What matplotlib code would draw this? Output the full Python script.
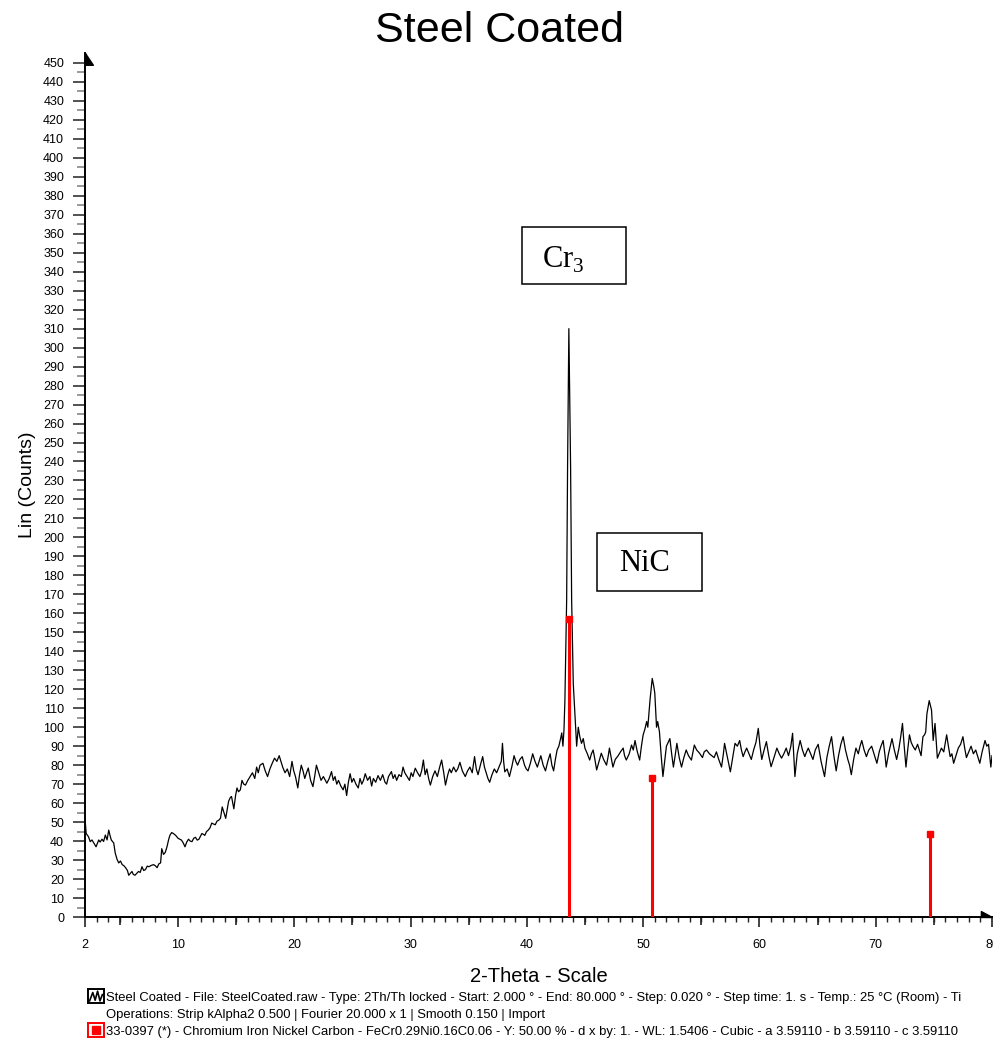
import matplotlib
matplotlib.use("Agg")
import matplotlib.pyplot as plt
from matplotlib.patches import Rectangle

plt.rcParams['font.family'] = ['Liberation Sans', 'DejaVu Sans']
plt.rcParams['mathtext.fontset'] = 'custom'
plt.rcParams['mathtext.rm'] = 'Liberation Serif'

# scan (2-theta in degrees, counts)
two_theta = [
    2.0, 2.1, 2.3, 2.45, 2.6, 2.8, 2.95, 3.18, 3.3, 3.46, 3.6, 3.75, 3.9, 4.04, 4.15, 4.26, 4.47,
    4.6, 4.75, 4.9, 5.05, 5.2, 5.35, 5.5, 5.65, 5.76, 5.9, 6.04, 6.15, 6.3, 6.45, 6.6, 6.75, 6.9,
    7.05, 7.2, 7.35, 7.5, 7.7, 7.9, 8.05, 8.2, 8.35, 8.5, 8.6, 8.75, 8.9, 9.05, 9.2, 9.3, 9.45,
    9.6, 9.8, 10.0, 10.3, 10.45, 10.6, 10.75, 10.9, 11.05, 11.2, 11.35, 11.5, 11.65, 11.8, 12.05,
    12.2, 12.3, 12.45, 12.6, 12.75, 12.9, 13.05, 13.2, 13.35, 13.5, 13.65, 13.8, 13.95, 14.1,
    14.35, 14.5, 14.6, 14.8, 14.95, 15.07, 15.2, 15.36, 15.5, 15.65, 15.8, 16.0, 16.2, 16.4, 16.6,
    16.76, 16.9, 17.05, 17.3, 17.5, 17.7, 17.9, 18.1, 18.3, 18.5, 18.7, 18.85, 19.0, 19.2, 19.4,
    19.6, 19.8, 19.95, 20.1, 20.3, 20.45, 20.6, 20.75, 20.9, 21.05, 21.2, 21.4, 21.6, 21.75, 21.9,
    22.1, 22.3, 22.5, 22.8, 23.0, 23.2, 23.35, 23.5, 23.65, 23.8, 24.0, 24.2, 24.35, 24.5, 24.65,
    24.8, 24.95, 25.1, 25.3, 25.5, 25.65, 25.8, 25.95, 26.1, 26.3, 26.5, 26.65, 26.8, 27.0, 27.2,
    27.4, 27.6, 27.8, 27.94, 28.1, 28.35, 28.5, 28.65, 28.8, 29.0, 29.2, 29.35, 29.5, 29.7, 29.9,
    30.05, 30.2, 30.4, 30.6, 30.8, 30.95, 31.1, 31.25, 31.4, 31.55, 31.7, 31.9, 32.1, 32.3, 32.5,
    32.67, 32.85, 33.0, 33.2, 33.35, 33.5, 33.7, 33.9, 34.05, 34.24, 34.45, 34.7, 34.9, 35.1, 35.3,
    35.5, 35.65, 35.8, 36.0, 36.2, 36.35, 36.5, 36.65, 36.8, 37.0, 37.2, 37.4, 37.6, 37.8, 37.9,
    38.0, 38.1, 38.3, 38.5, 38.7, 38.9, 39.05, 39.2, 39.4, 39.6, 39.8, 39.95, 40.1, 40.3, 40.5,
    40.7, 40.9, 41.05, 41.2, 41.4, 41.6, 41.8, 42.0, 42.15, 42.3, 42.45, 42.6, 42.75, 42.9, 43.0,
    43.1, 43.19, 43.27, 43.42, 43.5, 43.61, 43.76, 43.85, 43.99, 44.13, 44.28, 44.42, 44.55, 44.7,
    44.85, 44.99, 45.2, 45.4, 45.55, 45.7, 45.85, 46.0, 46.2, 46.4, 46.6, 46.85, 47.0, 47.1, 47.25,
    47.4, 47.6, 47.85, 48.05, 48.28, 48.4, 48.55, 48.8, 49.0, 49.15, 49.3, 49.5, 49.7, 49.85, 50.0,
    50.15, 50.3, 50.4, 50.6, 50.78, 50.9, 51.0, 51.15, 51.25, 51.4, 51.55, 51.7, 51.85, 52.0, 52.15,
    52.3, 52.45, 52.6, 52.75, 52.9, 53.1, 53.3, 53.5, 53.7, 53.9, 54.15, 54.4, 54.6, 54.85, 55.1,
    55.25, 55.45, 55.7, 55.9, 56.1, 56.3, 56.5, 56.74, 56.9, 57.0, 57.25, 57.5, 57.7, 57.9, 58.1,
    58.3, 58.45, 58.6, 58.75, 58.9, 59.1, 59.3, 59.5, 59.7, 59.9, 60.05, 60.2, 60.4, 60.6, 60.8,
    61.0, 61.25, 61.5, 61.7, 61.9, 62.1, 62.3, 62.5, 62.7, 62.85, 63.05, 63.25, 63.5, 63.7, 63.9,
    64.05, 64.2, 64.4, 64.6, 64.8, 65.05, 65.3, 65.6, 65.8, 66.0, 66.2, 66.4, 66.6, 66.8, 67.0,
    67.2, 67.4, 67.6, 67.75, 67.9, 68.1, 68.3, 68.5, 68.65, 68.8, 69.0, 69.2, 69.4, 69.65, 69.85,
    70.1, 70.3, 70.45, 70.64, 70.8, 70.9, 71.1, 71.25, 71.4, 71.6, 71.8, 72.0, 72.15, 72.3, 72.45,
    72.6, 72.75, 72.9, 73.05, 73.2, 73.4, 73.6, 73.75, 73.9, 74.06, 74.2, 74.3, 74.4, 74.6, 74.8,
    74.94, 75.1, 75.3, 75.45, 75.65, 75.85, 76.1, 76.25, 76.4, 76.55, 76.7, 76.9, 77.1, 77.3, 77.5,
    77.65, 77.8, 78.0, 78.2, 78.4, 78.6, 78.8, 78.95, 79.15, 79.4, 79.55, 79.7, 79.9, 80.0,
]
counts = [
    52, 44, 42.3, 39.7, 40.6, 38.5, 37, 40.6, 39.5, 41, 39.8, 43.2, 40.6, 45.8, 43, 40.6, 39,
    33.7, 30.5, 28.5, 29.5, 27.6, 27, 25.9, 24.5, 22, 23, 24, 22.5, 22, 23, 24, 23.5, 26.5,
    24.5, 25, 26.8, 26.5, 27.2, 27.6, 27, 26, 28, 28.5, 36, 33, 34, 37, 41, 43, 44.5,
    44, 43, 41.5, 40.5, 39, 37, 39.5, 41, 40, 39.7, 41.5, 42, 40.5, 41, 44,
    43.5, 43, 45, 45.8, 47, 49.5, 49, 48.6, 50.5, 51, 52, 58, 55, 52,
    61, 63, 63.5, 57, 64, 68, 66, 67, 72, 70, 69.5, 72, 74, 76, 73,
    79, 76, 80, 81, 77, 74, 78, 81, 83.7, 82, 85, 82, 79, 76, 78,
    74, 82, 77, 74, 68, 75, 80, 77, 73, 76, 78.5, 72, 68.7, 74, 80,
    76, 72, 74, 70.5, 73, 76.6, 72, 74, 70, 72, 69, 67, 70, 64, 71,
    75.5, 71, 73, 70, 68, 73, 70, 72, 75.5, 72, 74, 69, 73, 71, 74.5,
    72, 75, 71, 70, 74, 76.6, 73, 75, 72, 75, 74, 79, 76, 74, 72,
    76, 74, 78.4, 76, 74, 77, 82.7, 75, 78, 73, 69.5, 74, 77, 74, 79,
    82.7, 76, 69.5, 75, 78, 76, 79, 76.5, 78, 81.5, 77, 74, 77, 79, 76,
    84.5, 78, 75, 80, 84.5, 79, 76, 73, 71, 75, 78, 76, 79, 82, 91.5,
    82, 76.5, 78, 74, 79, 85, 82, 80, 83, 84.5, 80, 78, 77, 81, 86,
    82, 79, 82, 85, 80, 77, 82, 86, 80, 77, 83, 88, 90, 94, 97,
    90, 98.5, 114, 167, 237, 310, 237, 167, 123, 107, 90, 100, 95, 91.5,
    94, 89, 86, 82.7, 86, 88, 83, 77.5, 82, 86.3, 83, 80, 85, 89, 84,
    79, 83, 85, 87, 89, 85, 82.7, 86, 90.6, 88, 93, 87, 82.7, 90, 96,
    99, 103, 100, 115, 125.7, 122, 118, 100, 103, 97.6, 85, 74, 82, 90, 92,
    94, 86, 79, 85, 91.5, 84, 79, 84, 88, 85, 82.7, 90.6, 88, 86.3, 84,
    87, 88, 86, 85, 84, 87, 83, 79, 86, 91.5, 84, 76.5, 84, 91.5, 90,
    93, 88, 84.5, 87, 89, 86, 83, 88, 92, 99.4, 90, 83, 88, 92.4, 85,
    79.2, 84, 89, 86, 83.7, 86, 89, 85, 90, 96.8, 74, 86, 93, 88, 84.5,
    87, 89, 86, 83, 88, 91, 82, 74, 84, 90, 95, 85, 77, 85, 91,
    95, 88, 83, 80, 75, 83, 89, 86, 90, 93, 88, 84.5, 88, 90, 86,
    81, 87, 90, 93, 85, 79, 86, 90, 94, 88, 83, 89, 95, 102, 90,
    79, 88, 96, 92, 90, 88, 91, 88, 85, 95, 96, 97.6, 107, 114, 109,
    93, 102, 83.7, 86, 89, 87, 96, 90, 84.5, 86, 81, 85, 89, 91, 95,
    89, 84, 87, 90, 86, 88, 84, 81, 87, 93, 90, 91, 79, 85,
]

# reference pattern 33-0397 (stick positions and heights)
ref_pos = [43.6, 50.8, 74.65]
ref_int = [157, 73, 44]

fig = plt.figure(figsize=(9.93, 10.41), dpi=100)
ax = fig.add_axes([0.0856, 0.1191, 0.9134, 0.8296])

ax.plot(two_theta, counts, color='black', lw=0.9)
ax.vlines(ref_pos, 0, ref_int, color='#ff0000', lw=2.2, zorder=3)
ax.plot(ref_pos, ref_int, 's', color='#ff0000', ms=5, zorder=4)

ax.set_xlim(2, 80)
ax.set_ylim(0, 455)

ax.spines['top'].set_visible(False)
ax.spines['right'].set_visible(False)
ax.spines['left'].set_linewidth(1.4)
ax.spines['bottom'].set_linewidth(1.4)

# arrow heads on the axes
ax.plot(0, 1, marker=[(0, 0), (0, -1.5), (1, -1.5), (0, 0)], ms=17, color='black',
        transform=ax.transAxes, clip_on=False)
ax.plot(1, 0, marker=[(0, 0), (-1.5, 0), (-1.5, 0.8), (0, 0)], ms=16, color='black',
        transform=ax.transAxes, clip_on=False)

ax.set_yticks(range(0, 451, 10))
ax.set_yticks(range(5, 451, 10), minor=True)
ax.tick_params(axis='y', which='major', direction='out', length=9, width=1.2, color='#333333',
               labelsize=9, pad=6)
ax.tick_params(axis='y', which='minor', direction='out', length=6, width=1.2, color='#888888')

ax.set_xticks([2, 10, 20, 30, 40, 50, 60, 70, 80])
ax.set_xticks(range(3, 80), minor=True)
ax.tick_params(axis='x', which='major', direction='out', length=7.5, width=1.2, color='#222222',
               labelsize=9, pad=8)
ax.tick_params(axis='x', which='minor', direction='out', length=3.5, width=1, color='#222222')

# medium ticks every 5 degrees
sec = ax.secondary_xaxis('bottom')
sec.set_xticks([5, 15, 25, 35, 45, 55, 65, 75])
sec.set_xticklabels([])
sec.tick_params(direction='out', length=5.5, width=1.2, color='#222222')
sec.spines['bottom'].set_visible(False)

ax.set_xlabel('2-Theta - Scale', fontsize=14.5, labelpad=12)
ax.set_ylabel('Lin (Counts)', fontsize=14, labelpad=5)
fig.text(0.503, 0.970, 'Steel Coated', fontsize=31, ha='center', va='center')

# peak labels
ax.add_patch(Rectangle((39.57, 333.5), 8.95, 30, fill=False, lw=1.1, ec='black'))
ax.text(43.1, 346, 'Cr$_3$', fontsize=22, family='Liberation Serif', ha='center', va='center')
ax.add_patch(Rectangle((46.02, 171.8), 9.03, 30.5, fill=False, lw=1.1, ec='black'))
ax.text(50.15, 186.5, 'NiC', fontsize=22, family='Liberation Serif', ha='center', va='center')

# legend lines under the plot
fs = 9.4
fig.text(0.1068, 0.0413, 'Steel Coated - File: SteelCoated.raw - Type: 2Th/Th locked - Start: 2.000 ° - '
         'End: 80.000 ° - Step: 0.020 ° - Step time: 1. s - Temp.: 25 °C (Room) - Ti',
         fontsize=fs, va='center')
fig.text(0.1068, 0.0245, 'Operations: Strip kAlpha2 0.500 | Fourier 20.000 x 1 | Smooth 0.150 | Import',
         fontsize=fs, va='center')
fig.text(0.1068, 0.0086, '33-0397 (*) - Chromium Iron Nickel Carbon - FeCr0.29Ni0.16C0.06 - Y: 50.00 % - '
         'd x by: 1. - WL: 1.5406 - Cubic - a 3.59110 - b 3.59110 - c 3.59110',
         fontsize=fs, va='center')

icon1 = fig.add_axes([0.0886, 0.0365, 0.0161, 0.0134])
icon1.plot([0.1, 0.3, 0.45, 0.6, 0.75, 0.9], [0.15, 0.75, 0.2, 0.85, 0.15, 0.6], color='black', lw=1.2)
icon1.set_xlim(0, 1)
icon1.set_ylim(0, 1)
icon1.set_xticks([])
icon1.set_yticks([])
for s in icon1.spines.values():
    s.set_linewidth(1.4)

icon2 = fig.add_axes([0.0886, 0.0038, 0.0161, 0.0134])
icon2.plot([0.5], [0.5], 's', color='#ff0000', ms=6)
icon2.set_xlim(0, 1)
icon2.set_ylim(0, 1)
icon2.set_xticks([])
icon2.set_yticks([])
for s in icon2.spines.values():
    s.set_color('#ff0000')
    s.set_linewidth(1.4)

fig.savefig('out.png', dpi=100)
